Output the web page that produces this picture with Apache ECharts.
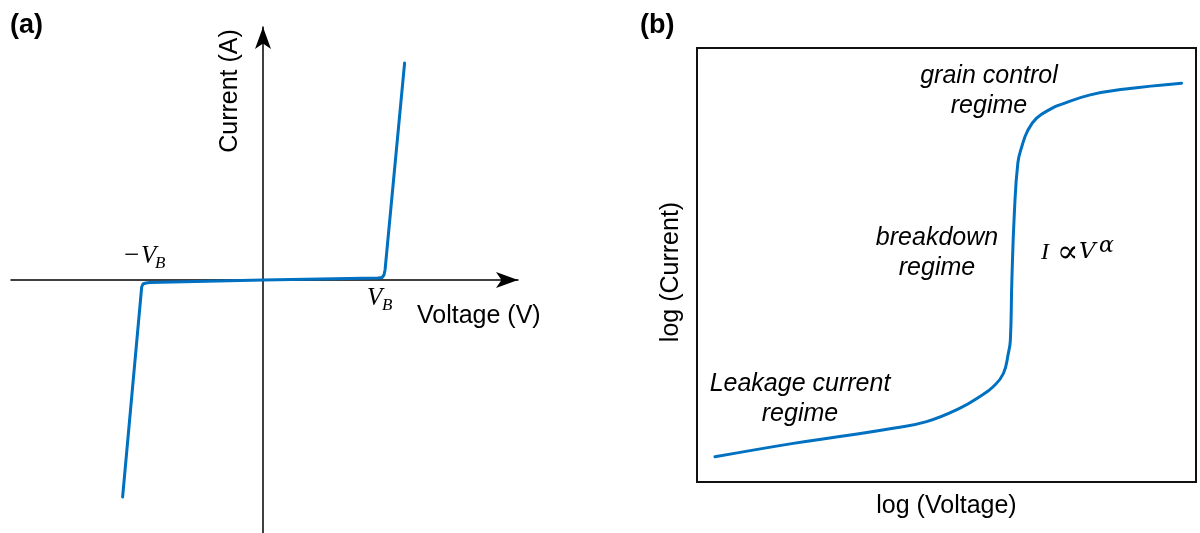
<!DOCTYPE html>
<html>
<head>
<meta charset="utf-8">
<script src="https://cdn.jsdelivr.net/npm/echarts@6/dist/echarts.min.js"></script>
<style>
  html, body { margin: 0; padding: 0; background: #fff; }
  #chart { width: 1200px; height: 533px; }
</style>
</head>
<body>
<div id="chart"></div>
<script>
// (a) Symmetric varistor I–V curve; voltage in units of V_B, current in arbitrary units
const ivVoltage = [-1.17, -1.011, -1.0, -0.975, -0.942, 0, 0.958, 0.992, 1.008, 1.017, 1.18];
const ivCurrent = [-2.17, -0.07, -0.04, -0.03, -0.025, 0, 0.02, 0.025, 0.05, 0.10, 2.17];

// (b) Same characteristic on log–log scales (arbitrary decades)
const logVoltage = [0.36, 1.93, 2.93, 3.93, 4.60, 5.27, 5.67, 5.94, 6.14, 6.24, 6.28, 6.31, 6.36, 6.43, 6.51, 6.62, 6.80, 7.11, 7.27, 7.88, 8.54, 9.71];
const logCurrent = [0.58, 0.89, 1.06, 1.24, 1.39, 1.70, 1.97, 2.20, 2.50, 2.97, 3.27, 4.65, 6.20, 7.35, 7.73, 8.08, 8.38, 8.61, 8.69, 8.92, 9.05, 9.19];

const SANS = '"Liberation Sans", Arial, sans-serif';
const SERIF = '"Liberation Serif", "DejaVu Serif", serif';
const MATH = '"DejaVu Serif", "Liberation Serif", serif';
const BLUE = '#0070C0';

const zip = (xs, ys) => xs.map((x, i) => [x, ys[i]]);

function label(x, y, text, o = {}) {
  return {
    type: 'text',
    x, y,
    rotation: o.rotation || 0,
    style: {
      text,
      fill: '#000',
      fontFamily: o.family || SANS,
      fontSize: o.size || 25,
      fontStyle: o.style || 'normal',
      fontWeight: o.weight || 'normal',
      align: o.align || 'center',
      verticalAlign: 'middle'
    },
    z: 10
  };
}

const hiddenAxis = {
  axisLine: { show: false },
  axisTick: { show: false },
  axisLabel: { show: false },
  splitLine: { show: false }
};

const arrowAxisLine = {
  show: true,
  onZero: true,
  symbol: ['none', 'arrow'],
  symbolSize: [12, 22],
  lineStyle: { color: '#000', width: 1.5 }
};

const option = {
  animation: false,
  backgroundColor: '#fff',
  grid: [
    { left: 11, top: 27, width: 507, height: 506 },
    { left: 697, top: 48, width: 499, height: 434, show: true,
      borderColor: '#111', borderWidth: 2, backgroundColor: 'transparent' }
  ],
  xAxis: [
    { gridIndex: 0, type: 'value', min: -2.1, max: 2.125,
      axisLine: arrowAxisLine, axisTick: { show: false }, axisLabel: { show: false }, splitLine: { show: false } },
    Object.assign({ gridIndex: 1, type: 'value', min: 0, max: 10 }, hiddenAxis)
  ],
  yAxis: [
    { gridIndex: 0, type: 'value', min: -2.53, max: 2.53,
      axisLine: arrowAxisLine, axisTick: { show: false }, axisLabel: { show: false }, splitLine: { show: false } },
    Object.assign({ gridIndex: 1, type: 'value', min: 0, max: 10 }, hiddenAxis)
  ],
  series: [
    {
      type: 'line', xAxisIndex: 0, yAxisIndex: 0,
      data: zip(ivVoltage, ivCurrent),
      showSymbol: false, smooth: false,
      lineStyle: { color: BLUE, width: 3, join: 'round', cap: 'round' },
      z: 5
    },
    {
      type: 'line', xAxisIndex: 1, yAxisIndex: 1,
      data: zip(logVoltage, logCurrent),
      showSymbol: false, smooth: 0.45,
      lineStyle: { color: BLUE, width: 3, cap: 'round', join: 'round' },
      z: 5
    }
  ],
  graphic: [
    // panel (a)
    label(10, 26, '(a)', { align: 'left', weight: 'bold', size: 27 }),
    label(230, 91, 'Current (A)', { rotation: Math.PI / 2 }),
    label(417, 316, 'Voltage (V)', { align: 'left' }),
    label(131.5, 256, '\u2212', { family: SERIF, size: 27 }),
    label(141, 256.5, 'V', { family: SERIF, style: 'italic', align: 'left' }),
    label(155, 264, 'B', { family: SERIF, style: 'italic', align: 'left', size: 17 }),
    label(367, 298.5, 'V', { family: SERIF, style: 'italic', align: 'left' }),
    label(382, 306, 'B', { family: SERIF, style: 'italic', align: 'left', size: 17 }),
    // panel (b)
    label(640, 26, '(b)', { align: 'left', weight: 'bold', size: 27 }),
    label(989, 76, 'grain control', { style: 'italic' }),
    label(989, 106, 'regime', { style: 'italic' }),
    label(937, 238, 'breakdown', { style: 'italic' }),
    label(937, 268, 'regime', { style: 'italic' }),
    label(800, 384, 'Leakage current', { style: 'italic' }),
    label(800, 414, 'regime', { style: 'italic' }),
    label(1041, 252.5, 'I', { family: SERIF, style: 'italic', align: 'left', size: 24 }),
    label(1067.5, 254, '\u221D', { family: MATH, size: 32 }),
    label(1079, 252.5, 'V', { family: MATH, style: 'italic', align: 'left', size: 23 }),
    label(1099, 246, '\u03B1', { family: MATH, style: 'italic', align: 'left', size: 22 }),
    label(946.5, 506, 'log (Voltage)'),
    label(671, 272, 'log (Current)', { rotation: Math.PI / 2 })
  ]
};

const chart = echarts.init(document.getElementById('chart'), null, { renderer: 'canvas' });
chart.setOption(option);
</script>
</body>
</html>
